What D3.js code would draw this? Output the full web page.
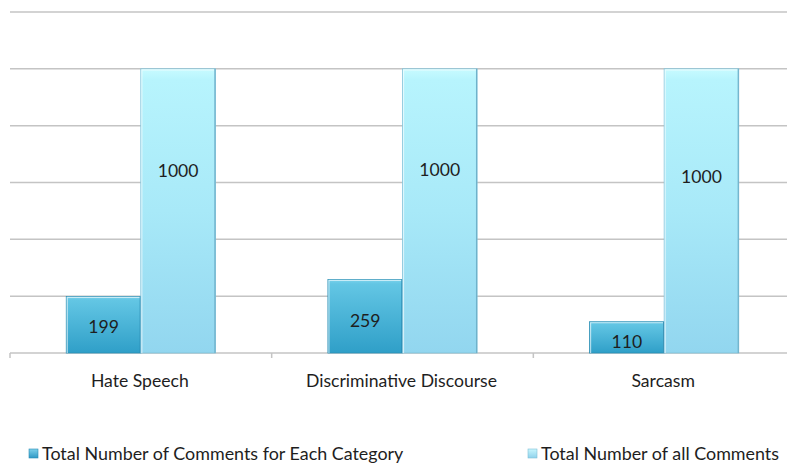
<!DOCTYPE html>
<html>
<head>
<meta charset="utf-8">
<script src="https://cdn.jsdelivr.net/npm/d3@7"></script>
<style>
  html, body { margin: 0; padding: 0; background: #fff; }
  svg { display: block; font-family: Lato, "Open Sans", sans-serif; }
</style>
</head>
<body>
<svg id="chart" width="787" height="463"></svg>
<script>
// Comment counts per category
const categories = ["Hate Speech", "Discriminative Discourse", "Sarcasm"];
const seriesNames = ["Total Number of Comments for Each Category", "Total Number of all Comments"];
const categoryCounts = [199, 259, 110];
const totalCounts = [1000, 1000, 1000];
const yTicks = [0, 200, 400, 600, 800, 1000, 1200];

const svg = d3.select("#chart");
const W = 787, H = 463;
const FS = 17.6;

const x = d3.scaleBand().domain(categories).range([10, 795]).padding(0);
const groupW = x.bandwidth() * 0.57;
const xs = d3.scaleBand().domain([0, 1]).range([0, groupW]).padding(0);
const y = d3.scaleLinear().domain([0, 1200]).range([353, 12]);

const defs = svg.append("defs");
function grad(id, stops) {
  const g = defs.append("linearGradient").attr("id", id)
    .attr("x1", 0).attr("y1", 0).attr("x2", 0).attr("y2", 1);
  stops.forEach(([o, c]) => g.append("stop").attr("offset", o).attr("stop-color", c));
}
grad("g0", [[0, "#7dd3ec"], [0.06, "#63c6e4"], [1, "#2f9fc8"]]);
grad("g1", [[0, "#c8fbff"], [0.04, "#b7f4fd"], [0.5, "#a8e9f8"], [1, "#92d6ef"]]);
grad("lg0", [[0, "#7dd0ea"], [1, "#2f98c4"]]);
grad("lg1", [[0, "#c8f6fd"], [1, "#8fd2ec"]]);

// horizontal gridlines
svg.append("g").selectAll("line").data(yTicks).join("line")
  .attr("x1", 10).attr("x2", W)
  .attr("y1", d => y(d)).attr("y2", d => y(d))
  .attr("stroke", "#c4c4c4").attr("stroke-width", 1.5);

// category separator ticks along the baseline
svg.append("g").selectAll("line").data(categories).join("line")
  .attr("x1", d => x(d)).attr("x2", d => x(d))
  .attr("y1", y(0)).attr("y2", y(0) + 5)
  .attr("stroke", "#c4c4c4").attr("stroke-width", 1.5);

const rows = categories.map((c, i) => ({ c, vals: [categoryCounts[i], totalCounts[i]] }));
const padL = (x.bandwidth() - groupW) / 2;
const fills = ["url(#g0)", "url(#g1)"];
const edges = ["#2b8fb5", "#7fc0d8"];
// nudges for value labels, per category / series
const labelDy = [[2, -40], [5, -41], [4.5, -34]];

const groups = svg.append("g").selectAll("g").data(rows).join("g")
  .attr("transform", d => `translate(${x(d.c) + padL},0)`);

groups.each(function (d, ci) {
  const g = d3.select(this);
  d.vals.forEach((v, si) => {
    const bx = xs(si), bw = xs.bandwidth();
    const top = y(v), bot = y(0);
    g.append("rect").attr("x", bx).attr("y", top).attr("width", bw).attr("height", bot - top)
      .attr("fill", fills[si]).attr("stroke", edges[si]).attr("stroke-width", 0.8);
    // bevel highlight along the top and left edges
    g.append("path")
      .attr("d", `M${bx + 1},${bot} L${bx + 1},${top + 1} L${bx + bw - 1},${top + 1}`)
      .attr("fill", "none").attr("stroke", "rgba(255,255,255,0.6)").attr("stroke-width", 1.2);
    // darker right edge
    g.append("line").attr("x1", bx + bw - 0.5).attr("x2", bx + bw - 0.5)
      .attr("y1", top).attr("y2", bot)
      .attr("stroke", si === 0 ? "#2886ad" : "#6fb2cb").attr("stroke-width", 1.2);
    g.append("text")
      .attr("x", bx + bw / 2)
      .attr("y", (top + bot) / 2 + labelDy[ci][si])
      .attr("dy", "0.35em")
      .attr("text-anchor", "middle")
      .attr("font-size", FS).attr("fill", "#1e1e1e")
      .text(v);
  });
});

// category labels
svg.append("g").selectAll("text").data(categories).join("text")
  .attr("x", d => x(d) + x.bandwidth() / 2 - 1)
  .attr("y", 387)
  .attr("text-anchor", "middle")
  .attr("font-size", FS).attr("fill", "#1e1e1e")
  .text(d => d);

// legend
const legendX = [29, 528];
const lg = svg.append("g").selectAll("g").data(seriesNames).join("g")
  .attr("transform", (d, i) => `translate(${legendX[i]},449)`);
lg.append("rect").attr("width", 9).attr("height", 9)
  .attr("fill", (d, i) => `url(#lg${i})`)
  .attr("stroke", (d, i) => i === 0 ? "#2a8cb5" : "#7fbfd6").attr("stroke-width", 0.6);
lg.append("text").attr("x", 13).attr("y", 11)
  .attr("font-size", 17.9).attr("fill", "#1e1e1e")
  .text(d => d);
</script>
</body>
</html>
